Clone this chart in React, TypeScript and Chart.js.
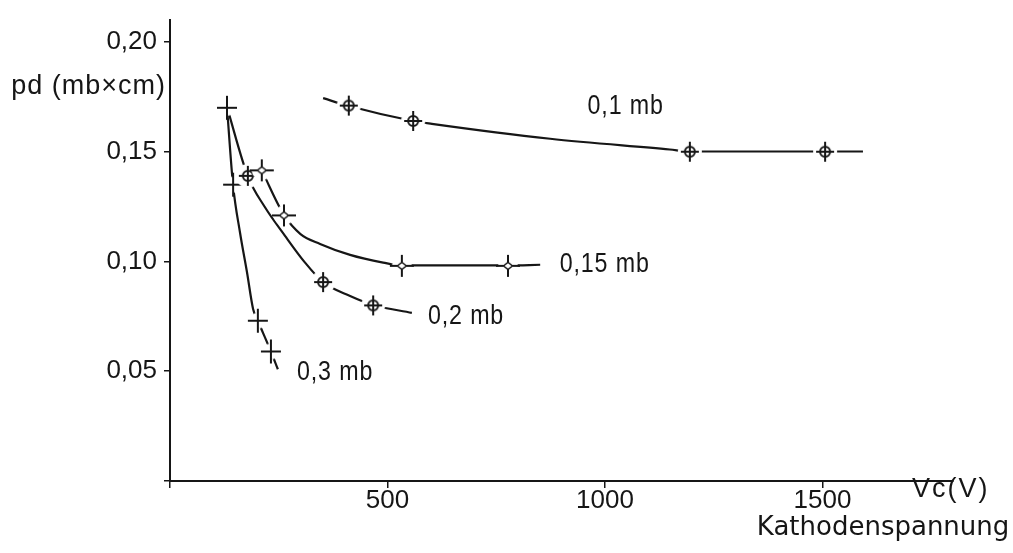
import React, { useEffect, useRef } from "react";
import { Chart, registerables } from "chart.js";

Chart.register(...registerables);

// ---- measured points (Vc in V, pd in mb×cm) ----
const v01 = [411, 559, 1195, 1506];
const pd01 = [0.171, 0.164, 0.15, 0.15];
const v015 = [211, 262, 533, 777];
const pd015 = [0.1415, 0.121, 0.098, 0.098];
const v02 = [179, 352, 467];
const pd02 = [0.139, 0.0906, 0.08];
const v03 = [131, 145, 202, 232];
const pd03 = [0.17, 0.135, 0.073, 0.059];

// ---- hand-drawn fitted curves ----
const c01V = [352, 411, 559, 602, 874, 1149, 1195, 1506, 1593];
const c01P = [0.1744, 0.1708, 0.164, 0.1627, 0.1559, 0.151, 0.1501, 0.1501, 0.1501];
const c015V = [211, 262, 300, 345, 414, 490, 533, 777, 851];
const c015P = [0.1415, 0.1212, 0.1125, 0.108, 0.103, 0.0995, 0.0982, 0.0982, 0.0985];
const c02V = [131, 179, 218, 264, 310, 352, 414, 467, 556];
const c02P = [0.1703, 0.1388, 0.1248, 0.1118, 0.0996, 0.0906, 0.0843, 0.0802, 0.0766];
const c03V = [131, 145, 161, 177, 191, 202, 232, 248];
const c03P = [0.1703, 0.1347, 0.1131, 0.0951, 0.0784, 0.073, 0.059, 0.0509];

// ---- axes ----
const xTicks = [0, 500, 1000, 1500];
const yTicks = [0, 0.05, 0.1, 0.15, 0.2];
const xMax = 1800;
const yMax = 0.21;

// ---- text ----
const seriesLabels = ["0,1 mb", "0,15 mb", "0,2 mb", "0,3 mb"];
const seriesLabelV = [960, 896, 593, 292];
const seriesLabelP = [0.1705, 0.0988, 0.0749, 0.0492];
const yTitle = "pd (mb×cm)";
const xTitle = "Vc(V)";
const xSubTitle = "Kathodenspannung";

const INK = "#161616";

function pts(xs: number[], ys: number[]) {
  return xs.map((v, i) => ({ x: v, y: ys[i] }));
}

function makeMarker(kind: "cross" | "circle" | "star"): HTMLCanvasElement {
  const c = document.createElement("canvas");
  c.width = 32;
  c.height = 32;
  const g = c.getContext("2d")!;
  const cx = 16,
    cy = 16;
  g.fillStyle = "#fff";
  g.beginPath();
  g.arc(cx, cy, kind === "cross" ? 8 : kind === "star" ? 10 : 12, 0, Math.PI * 2);
  g.fill();
  g.strokeStyle = INK;
  g.lineCap = "butt";
  if (kind === "cross") {
    g.lineWidth = 2;
    g.beginPath();
    g.moveTo(cx - 10, cy);
    g.lineTo(cx + 10, cy);
    g.moveTo(cx, cy - 12);
    g.lineTo(cx, cy + 12);
    g.stroke();
  } else if (kind === "circle") {
    g.lineWidth = 2;
    g.beginPath();
    g.arc(cx, cy, 5, 0, Math.PI * 2);
    g.stroke();
    g.beginPath();
    g.moveTo(cx - 9, cy);
    g.lineTo(cx + 9, cy);
    g.moveTo(cx, cy - 10);
    g.lineTo(cx, cy + 10);
    g.stroke();
  } else {
    g.lineWidth = 2;
    g.beginPath();
    g.moveTo(cx - 12, cy);
    g.lineTo(cx + 12, cy);
    g.moveTo(cx, cy - 11);
    g.lineTo(cx, cy + 11);
    g.stroke();
    g.fillStyle = "#fff";
    g.beginPath();
    g.moveTo(cx - 4.5, cy);
    g.lineTo(cx, cy - 3.5);
    g.lineTo(cx + 4.5, cy);
    g.lineTo(cx, cy + 3.5);
    g.closePath();
    g.fill();
    g.lineWidth = 1.4;
    g.stroke();
  }
  return c;
}

function condensedText(ctx: CanvasRenderingContext2D, text: string, x: number, y: number, sx: number) {
  ctx.save();
  ctx.translate(x, y);
  ctx.scale(sx, 1);
  ctx.fillText(text, 0, 0);
  ctx.restore();
}

const annotationPlugin = {
  id: "annotations",
  afterDraw(chart: any) {
    const { ctx, chartArea } = chart;
    const x = chart.scales.x;
    const y = chart.scales.y;
    ctx.save();
    ctx.fillStyle = INK;
    ctx.textAlign = "left";
    ctx.textBaseline = "middle";
    ctx.font = "27px 'Liberation Sans', sans-serif";
    try {
      (ctx as any).letterSpacing = "1px";
    } catch (e) {}
    seriesLabels.forEach((t, i) => {
      condensedText(ctx, t, x.getPixelForValue(seriesLabelV[i]), y.getPixelForValue(seriesLabelP[i]), 0.86);
    });
    ctx.textBaseline = "alphabetic";
    ctx.font = "27px 'Liberation Sans', sans-serif";
    ctx.textAlign = "right";
    ctx.fillText(yTitle, chartArea.left - 4, y.getPixelForValue(0.1765));
    ctx.textAlign = "left";
    try {
      (ctx as any).letterSpacing = "2px";
    } catch (e) {}
    ctx.fillText(xTitle, x.getPixelForValue(1706), chartArea.bottom + 16);
    try {
      (ctx as any).letterSpacing = "0px";
    } catch (e) {}
    ctx.font = "26px 'DejaVu Sans', sans-serif";
    ctx.fillText(xSubTitle, x.getPixelForValue(1349), chartArea.bottom + 54);
    ctx.restore();
  },
};

export default function App() {
  const ref = useRef<HTMLCanvasElement | null>(null);

  useEffect(() => {
    if (!ref.current) return;
    const mCross = makeMarker("cross");
    const mCircle = makeMarker("circle");
    const mStar = makeMarker("star");

    const curve = (xs: number[], ys: number[], label: string) => ({
      label,
      data: pts(xs, ys),
      showLine: true,
      borderColor: INK,
      borderWidth: 2.2,
      pointRadius: 0,
      cubicInterpolationMode: "monotone" as const,
      fill: false,
      order: 2,
    });
    const marks = (xs: number[], ys: number[], img: HTMLCanvasElement, label: string) => ({
      label,
      data: pts(xs, ys),
      showLine: false,
      pointStyle: img,
      pointRadius: 12,
      order: 0,
    });

    const chart = new Chart(ref.current, {
      type: "scatter",
      data: {
        datasets: [
          curve(c01V, c01P, "0,1 mb curve"),
          curve(c015V, c015P, "0,15 mb curve"),
          curve(c02V, c02P, "0,2 mb curve"),
          curve(c03V, c03P, "0,3 mb curve"),
          marks(v01, pd01, mCircle, "0,1 mb"),
          marks(v015, pd015, mStar, "0,15 mb"),
          marks(v02, pd02, mCircle, "0,2 mb"),
          marks(v03, pd03, mCross, "0,3 mb"),
        ] as any,
      },
      options: {
        responsive: false,
        animation: false,
        events: [],
        layout: { padding: { top: 15, right: 60, left: 0, bottom: 0 } },
        plugins: {
          legend: { display: false },
          tooltip: { enabled: false },
        },
        scales: {
          x: {
            type: "linear",
            min: 0,
            max: xMax,
            afterFit(s: any) {
              s.height = 72;
            },
            afterBuildTicks(s: any) {
              s.ticks = xTicks.map((v) => ({ value: v }));
            },
            ticks: {
              callback: (v: any) => (v === 0 ? "" : String(v)),
              font: { family: "'Liberation Sans', sans-serif", size: 26, lineHeight: 1 },
              color: INK,
              padding: 0,
              maxRotation: 0,
              autoSkip: false,
            },
            grid: {
              drawOnChartArea: false,
              drawTicks: true,
              tickLength: 7,
              color: INK,
              lineWidth: 1.5,
            },
            border: { display: true, color: INK, width: 2 },
          },
          y: {
            type: "linear",
            min: 0,
            max: yMax,
            afterFit(s: any) {
              s.width = 170;
            },
            afterBuildTicks(s: any) {
              s.ticks = yTicks.map((v) => ({ value: v }));
            },
            ticks: {
              callback: (v: any) => (v === 0 ? "" : Number(v).toFixed(2).replace(".", ",")),
              font: { family: "'Liberation Sans', sans-serif", size: 26, lineHeight: 1 },
              color: INK,
              padding: 7,
              autoSkip: false,
            },
            grid: {
              drawOnChartArea: false,
              drawTicks: true,
              tickLength: 6,
              color: INK,
              lineWidth: 1.5,
            },
            border: { display: true, color: INK, width: 2 },
          },
        },
      } as any,
      plugins: [annotationPlugin],
    });
    return () => chart.destroy();
  }, []);

  return (
    <div style={{ position: "fixed", left: 0, top: 0, width: 1013, height: 553, background: "#fff" }}>
      <canvas ref={ref} width={1013} height={553} style={{ display: "block", width: 1013, height: 553 }} />
    </div>
  );
}
